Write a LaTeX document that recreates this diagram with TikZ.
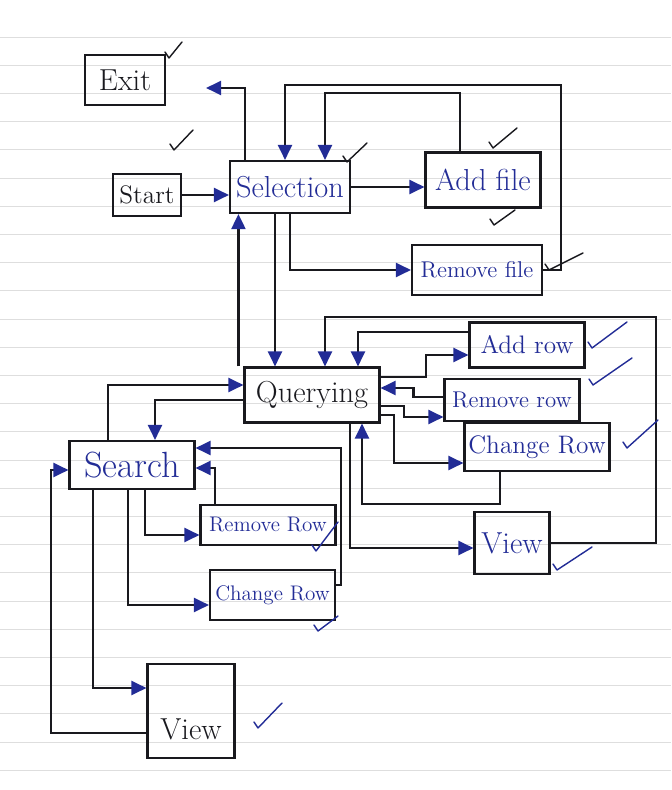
\documentclass[tikz,border=0pt]{standalone}
\usepackage{tikz}
\usetikzlibrary{arrows.meta,positioning}
\definecolor{inkblue}{RGB}{34,44,150}
\definecolor{pencil}{RGB}{25,25,30}
\tikzstyle{mainstate} = [draw=pencil, very thick, text=pencil, text centered, inner sep=2pt, font=\LARGE]
\tikzstyle{substate} = [draw=pencil, very thick, text=inkblue, text centered, inner sep=2pt, font=\Large]
\tikzstyle{arrow} = [draw=pencil, very thick, -{Triangle[length=0.3cm,width=0.28cm,color=inkblue]}]
\tikzstyle{donemark} = [draw, thick, line cap=round, line join=round]
\tikzstyle{ruled} = [draw=black!13, thin]
\newcommand{\mainstate}[3]{node (m#1) [mainstate,#2] {#3}}
\newcommand{\substate}[3]{node (s#1) [substate,#2] {#3}}
\begin{document}
\begin{tikzpicture}
\useasboundingbox (-2.94,3.9) rectangle (10.48,-11.9);
\foreach \k in {0,...,26}
  \path [ruled] (-2.94,{3.16-0.564*\k}) -- (10.48,{3.16-0.564*\k});

\path (0,0) \mainstate{1}{font=\Large, minimum width=1.36cm, minimum height=0.84cm}{Start};
\path (m1)+(2.86,0.16) \mainstate{2}{minimum width=2.4cm, minimum height=1.04cm, text=inkblue}{Selection};
\path (m1)+(-0.44,2.3) \mainstate{3}{minimum width=1.6cm, minimum height=1.0cm}{Exit};
\path [arrow] (m1.east) -- (m1.east -| m2.west);
\path [arrow,shorten >=0.8cm] ([xshift=-0.9cm]m2.north) |- ([yshift=-0.16cm]m3.east);

\path (m2)+(3.86,0.14) \substate{1}{font=\LARGE, minimum width=2.3cm, minimum height=1.1cm}{Add file};
\path (s1)+(-0.12,-1.8) \substate{2}{font=\fontsize{13}{15}\selectfont, minimum width=2.6cm, minimum height=1.0cm}{Remove file};
\path [arrow] (m2.east) -- (m2.east -| s1.west);
\path [arrow] (m2.south) |- (s2.west);
\path [arrow] ([xshift=-0.46cm]s1.north) -- ++(0,1.16) -| ([xshift=0.7cm]m2.north);
\path [arrow] (s2.east) -| ++(0.36,3.7) -| ([xshift=-0.1cm]m2.north);

\path (m2)+(0.44,-4.16) \mainstate{4}{minimum width=2.7cm, minimum height=1.1cm}{Querying};
\path [arrow] ([xshift=-0.1cm]m4.north west) -- ([xshift=-0.1cm]m4.north west |- m2.south);
\path [arrow] ([xshift=-0.3cm]m2.south) -- ([xshift=-0.3cm]m2.south |- m4.north);

\path (m4)+(4.3,1.0) \substate{3}{minimum width=2.3cm, minimum height=0.9cm}{Add row};
\path (s3)+(-0.3,-1.1) \substate{4}{font=\fontsize{13}{15}\selectfont, minimum width=2.7cm, minimum height=0.84cm}{Remove row};
\path (s4)+(0.5,-0.94) \substate{5}{minimum width=2.9cm, minimum height=0.96cm}{Change Row};
\path (s5)+(-0.5,-1.92) \substate{6}{font=\LARGE, minimum width=1.5cm, minimum height=1.24cm}{View};
\path [arrow] ([yshift=0.26cm]s3.west) -| ([xshift=0.92cm]m4.north);
\path [arrow] ([yshift=0.36cm]m4.east) -- ++(0.9,0) |- ([yshift=-0.2cm]s3.west);
\path [arrow] ([yshift=0.06cm]s4.west) -- ++(-0.6,0) |- ([yshift=0.14cm]m4.east);
\path [arrow] ([yshift=-0.22cm]m4.east) -- ++(0.46,0) |- ([yshift=-0.34cm]s4.west);
\path [arrow] ([yshift=-0.4cm]m4.east) -- ++(0.26,0) |- ([yshift=-0.32cm]s5.west);
\path [arrow] ([xshift=-0.74cm]s5.south) -- ++(0,-0.64) -| ([xshift=1.0cm]m4.south);
\path [arrow] ([xshift=0.76cm]m4.south) |- ([yshift=-0.1cm]s6.west);
\path [arrow] (s6.east) -- ++(2.1,0) |- ([xshift=0.26cm,yshift=0.98cm]m4.north) -- ([xshift=0.26cm]m4.north);

\path (m4)+(-3.6,-1.4) \mainstate{5}{font=\huge, minimum width=2.5cm, minimum height=0.96cm, text=inkblue}{Search};
\path [arrow] ([xshift=-0.48cm]m5.north) |- ([yshift=0.2cm]m4.west);
\path [arrow] ([yshift=-0.1cm]m4.west) -| ([xshift=0.46cm]m5.north);

\path (m5)+(2.72,-1.2) \substate{7}{font=\large, minimum width=2.7cm, minimum height=0.8cm}{Remove Row};
\path (s7)+(0.09,-1.4) \substate{8}{font=\large, minimum width=2.5cm, minimum height=1.0cm}{Change Row};
\path (m5)+(1.18,-4.92) \mainstate{6}{minimum width=1.74cm, text height=1.45cm, text depth=0.3cm}{View};
\path [arrow] ([xshift=-1.06cm]s7.north) |- ([yshift=-0.06cm]m5.east);
\path [arrow] ([yshift=0.2cm]s8.east) -- ++(0.1,0) |- ([yshift=0.34cm]m5.east);
\path [arrow] ([xshift=0.26cm]m5.south) |- ([yshift=-0.2cm]s7.west);
\path [arrow] ([xshift=-0.08cm]m5.south) |- ([yshift=-0.2cm]s8.west);
\path [arrow] ([xshift=-0.78cm]m5.south) |- ([yshift=0.46cm]m6.west);
\path [arrow] ([yshift=-0.44cm]m6.west) -- ++(-1.9,0) |- ([yshift=-0.1cm]m5.west);

\foreach \a/\b/\c/\d in {165/52/182/42, 170/144/193/130, 343/156/367/143, 489/142/517/128, 490/219/515/210, 545/264/583/253}
  \path [donemark,pencil] ({(\a-147)/50},{(195-\b)/50}) -- ++(0.08,-0.12) -- ({(\c-147)/50},{(195-\d)/50});
\foreach \a/\b/\c/\d in {588/342/627/322, 589/379/632/358, 623/442/658/420, 553/564/592/547, 312/545/338/522, 314/625/338/616, 254/722/282/703}
  \path [donemark,inkblue] ({(\a-147)/50},{(195-\b)/50}) -- ++(0.08,-0.12) -- ({(\c-147)/50},{(195-\d)/50});
\end{tikzpicture}
\end{document}
